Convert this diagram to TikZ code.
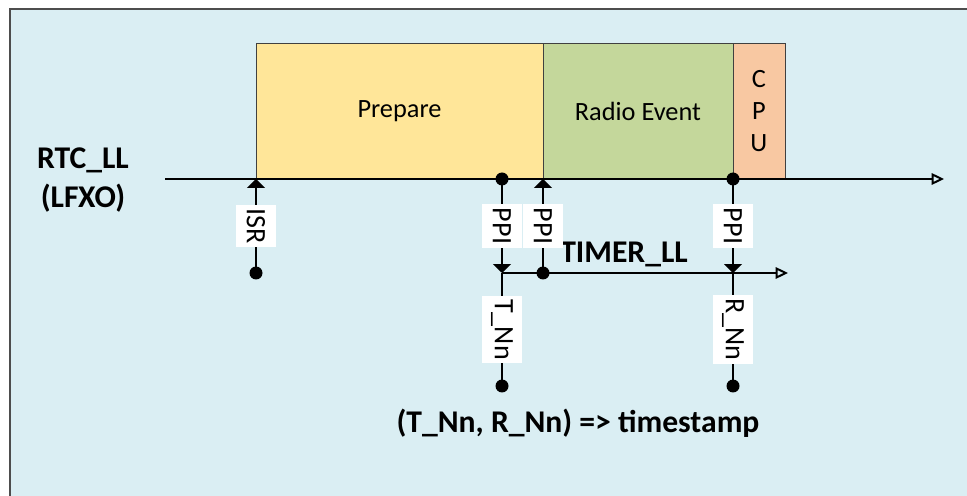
\documentclass[tikz,border=0pt]{standalone}
\usepackage{fontspec}
\setmainfont{Carlito}
\usepackage{tikz}
\usetikzlibrary{positioning, arrows.meta}
\definecolor{bgblue}{HTML}{DAEEF3}
\definecolor{frame}{HTML}{4D4D4D}
\definecolor{dgray}{HTML}{404040}
\definecolor{pyellow}{HTML}{FFE699}
\definecolor{rgreen}{HTML}{C4D79B}
\definecolor{corange}{HTML}{F8C8A2}

\begin{document}
\begin{tikzpicture}[x=0.02cm, y=-0.02cm,
    phase/.style={rectangle, draw=dgray, thin, minimum height=2.72cm, inner sep=0pt, outer sep=0pt, align=center, font=\fontsize{15}{18}\selectfont},
    axis/.style={-{Triangle[open, length=7pt, width=6.5pt]}, line width=1.1pt},
    trig/.style={-{Triangle[length=5pt, width=10pt]}, line width=1.1pt},
    wire/.style={line width=1.1pt},
    dot/.style={circle, fill, inner sep=0pt, minimum size=0.26cm},
    vlabel/.style={fill=white, rotate=-90, minimum height=0.8cm, inner xsep=0.07cm, inner ysep=0pt, font=\fontsize{16}{19}\selectfont},
    bold/.style={font=\fontsize{18}{22}\selectfont\bfseries, align=center},
]
\useasboundingbox (0,0) rectangle (967,496);

% Background
\fill[bgblue] (10,9) rectangle (967,496);
\draw[frame, line width=1.1pt] (10,496) -- (10,9) -- (967,9);

% Phases
\node[phase, fill=pyellow, minimum width=5.74cm] (prepare) at (399.5,111) {Prepare};
\node[phase, fill=rgreen, minimum width=3.8cm, right=0pt of prepare] (radio) {Radio Event};
\node[phase, fill=corange, minimum width=1.04cm, right=0pt of radio, font=\fontsize{15}{18.2}\selectfont] (cpu) {C\\P\\U};

% Time lines
\coordinate (rtcstart) at (165,179);
\coordinate (rtcend) at (944,179);
\coordinate (isr) at (256,179);
\coordinate (ppiB) at (543,179);
\coordinate (tstart) at (502,273);
\coordinate (rstop) at (733,273);
\coordinate (timerend) at (788,273);
\node[bold] (rtc) at (83,180) {RTC\_LL\\(LFXO)};
\node[bold] (timer) at (624,254) {TIMER\_LL};
\draw[axis] (rtcstart) -- (rtcend);
\draw[axis] (tstart) -- (timerend);

% Dots
\node[dot] (isrdot) at (256,273) {};
\node[dot] (ppiAdot) at (502,179) {};
\node[dot] (ppiBdot) at (543,273) {};
\node[dot] (ppiCdot) at (733,179) {};
\node[dot] (tdot) at (502,386) {};
\node[dot] (rdot) at (733,386) {};

% Triggers
\draw[trig] (isrdot.center) -- node[vlabel] {ISR} (isr);
\draw[trig] (ppiAdot.center) -- node[vlabel] {PPI} (tstart);
\draw[trig] (ppiBdot.center) -- node[vlabel] {PPI} (ppiB);
\draw[trig] (ppiCdot.center) -- node[vlabel] {PPI} (rstop);
\draw[wire] (tstart) -- node[vlabel] {T\_Nn} (tdot.center);
\draw[wire] (rstop) -- node[vlabel] {R\_Nn} (rdot.center);

% Result
\node[bold] (stamp) at (578,423) {(T\_Nn, R\_Nn) => timestamp};

\end{tikzpicture}
\end{document}
